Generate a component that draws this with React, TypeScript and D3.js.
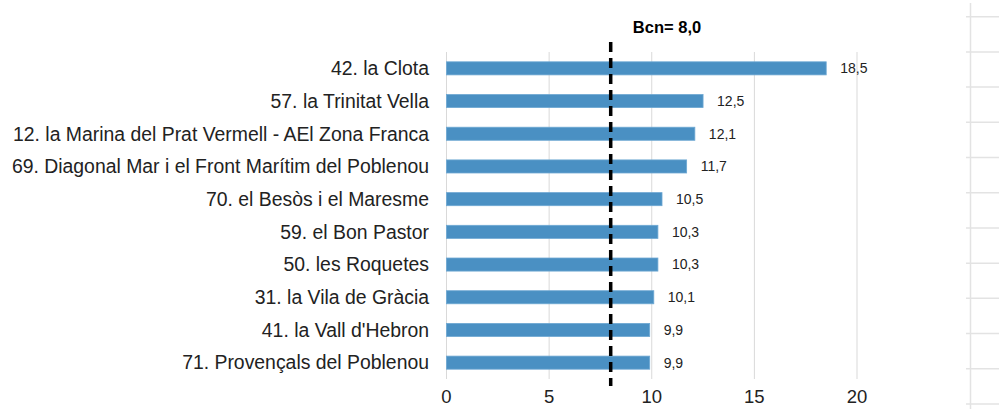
import React from "react";
import * as d3 from "d3";

const categories = [
  "42. la Clota",
  "57. la Trinitat Vella",
  "12. la Marina del Prat Vermell - AEl Zona Franca",
  "69. Diagonal Mar i el Front Marítim del Poblenou",
  "70. el Besòs i el Maresme",
  "59. el Bon Pastor",
  "50. les Roquetes",
  "31. la Vila de Gràcia",
  "41. la Vall d'Hebron",
  "71. Provençals del Poblenou",
];
const values = [18.5, 12.5, 12.1, 11.7, 10.5, 10.3, 10.3, 10.1, 9.9, 9.9];
const xTicks = [0, 5, 10, 15, 20];
const refValue = 8.0;
const refLabel = "Bcn= 8,0";
const rightRows = [0, 1, 2, 3, 4, 5, 6, 7, 8, 9, 10, 11];

const W = 999;
const H = 409;
const FONT = "'Liberation Sans', Arial, sans-serif";

export default function App() {
  const x = d3.scaleLinear().domain([0, 20]).range([446.5, 857]);
  const y = d3.scaleBand<string>().domain(categories).range([52, 379]).paddingInner(0.6).paddingOuter(0.3);
  const fmt = (v: number) => v.toFixed(1).replace(".", ",");
  const rowY = d3.scaleLinear().domain([0, 11]).range([16.7, 404]);

  return (
    <svg width={W} height={H} style={{ position: "absolute", left: 0, top: 0, background: "#fff" }}>
      {/* right spreadsheet-like grid */}
      <line x1={970.5} x2={970.5} y1={3} y2={H} stroke="#e3e3e3" strokeWidth={1.5} />
      {rightRows.map((r) => (
        <line key={r} x1={966} x2={W} y1={rowY(r)} y2={rowY(r)} stroke="#e3e3e3" strokeWidth={1.5} />
      ))}
      {/* gridlines */}
      {xTicks.map((t) => (
        <line key={t} x1={x(t)} x2={x(t)} y1={52} y2={379} stroke="#d9d9d9" strokeWidth={1} />
      ))}
      {/* bars */}
      {categories.map((c, i) => (
        <g key={c}>
          <rect
            x={x(0)}
            y={y(c)!}
            width={x(values[i]) - x(0)}
            height={y.bandwidth()}
            fill="#4a90c3"
            stroke="#6ea8d3"
            strokeWidth={0.8}
          />
          <text
            x={x(values[i]) + 14}
            y={y(c)! + y.bandwidth() / 2}
            dy="0.35em"
            fontFamily={FONT}
            fontSize={14}
            fill="#222"
          >
            {fmt(values[i])}
          </text>
          <text
            x={429}
            y={y(c)! + y.bandwidth() / 2}
            dy="0.35em"
            textAnchor="end"
            fontFamily={FONT}
            fontSize={19.4}
            fill="#222"
          >
            {c}
          </text>
        </g>
      ))}
      {/* reference line */}
      <line
        x1={x(refValue)}
        x2={x(refValue)}
        y1={42}
        y2={386}
        stroke="#000"
        strokeWidth={3.5}
        strokeDasharray="10,6"
      />
      <text
        x={667}
        y={33}
        textAnchor="middle"
        fontFamily={FONT}
        fontSize={16.5}
        fontWeight="bold"
        fill="#000"
      >
        {refLabel}
      </text>
      {/* x tick labels */}
      {xTicks.map((t) => (
        <text
          key={t}
          x={x(t)}
          y={403}
          textAnchor="middle"
          fontFamily={FONT}
          fontSize={18.5}
          fill="#222"
        >
          {t}
        </text>
      ))}
    </svg>
  );
}
